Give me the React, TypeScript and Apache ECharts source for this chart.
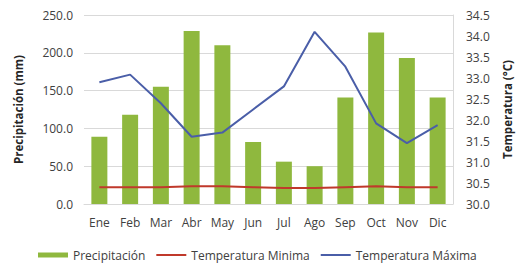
import React, { useEffect, useRef } from "react";
import * as echarts from "echarts";

const months = ["Ene", "Feb", "Mar", "Abr", "May", "Jun", "Jul", "Ago", "Sep", "Oct", "Nov", "Dic"];
const precipitacion = [89, 118, 155, 229, 210, 82, 56, 50, 141, 227, 193, 141];
const tempMinima = [30.4, 30.4, 30.4, 30.42, 30.42, 30.4, 30.38, 30.38, 30.4, 30.42, 30.4, 30.4];
const tempMaxima = [32.9, 33.08, 32.4, 31.6, 31.7, 32.25, 32.8, 34.1, 33.27, 31.92, 31.45, 31.88];

export default function App() {
  const ref = useRef<HTMLDivElement>(null);
  useEffect(() => {
    const chart = echarts.init(ref.current!, null, { renderer: "svg" });
    const font = "'Open Sans', sans-serif";
    chart.setOption({
      animation: false,
      backgroundColor: "#ffffff",
      textStyle: { fontFamily: font },
      grid: { left: 84, right: 77, top: 15, bottom: 65 },
      legend: {
        top: 244,
        left: 33,
        itemGap: 10,
        itemWidth: 30,
        itemHeight: 5,
        textStyle: { fontSize: 12, color: "#404040", fontFamily: font },
        data: [
          { name: "Precipitación", icon: "rect" },
          { name: "Temperatura Minima", itemStyle: { opacity: 0 } },
          { name: "Temperatura Máxima", itemStyle: { opacity: 0 } },
        ],
      },
      xAxis: {
        type: "category",
        data: months,
        axisLine: { show: true, lineStyle: { color: "#d9d9d9" } },
        axisTick: { show: false },
        axisLabel: { color: "#404040", fontSize: 12, margin: 12 },
      },
      yAxis: [
        {
          type: "value",
          min: 0,
          max: 250,
          interval: 50,
          name: "Precipitación (mm)",
          nameLocation: "middle",
          nameGap: 60,
          nameRotate: 90,
          nameTextStyle: { fontWeight: "bold", fontSize: 11.5, color: "#262626" },
          axisLabel: { formatter: (v: number) => v.toFixed(1), color: "#404040", fontSize: 12, margin: 11 },
          axisLine: { show: false },
          splitLine: { lineStyle: { color: "#d9d9d9" } },
        },
        {
          type: "value",
          min: 30,
          max: 34.5,
          interval: 0.5,
          name: "Temperatura (°C)",
          nameLocation: "middle",
          nameGap: 48,
          nameRotate: 90,
          nameTextStyle: { fontWeight: "bold", fontSize: 11.5, color: "#262626" },
          axisLabel: { formatter: (v: number) => v.toFixed(1), color: "#404040", fontSize: 12, margin: 13 },
          axisLine: { show: true, lineStyle: { color: "#d9d9d9" } },
          splitLine: { show: false },
        },
      ],
      series: [
        {
          name: "Precipitación",
          type: "bar",
          data: precipitacion,
          barWidth: "52%",
          itemStyle: { color: "#8fb83e" },
        },
        {
          name: "Temperatura Minima",
          type: "line",
          yAxisIndex: 1,
          data: tempMinima,
          symbol: "none",
          lineStyle: { color: "#c0392b", width: 2 },
          itemStyle: { color: "#c0392b" },
        },
        {
          name: "Temperatura Máxima",
          type: "line",
          yAxisIndex: 1,
          data: tempMaxima,
          symbol: "none",
          lineStyle: { color: "#4a5ea8", width: 2 },
          itemStyle: { color: "#4a5ea8" },
        },
      ],
    });
    return () => chart.dispose();
  }, []);
  return <div ref={ref} style={{ width: 530, height: 269, position: "absolute", left: 0, top: 0 }} />;
}
